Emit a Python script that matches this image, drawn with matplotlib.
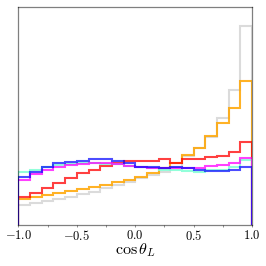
import numpy as np
import matplotlib
matplotlib.use("Agg")
import matplotlib.pyplot as plt
from matplotlib.ticker import MultipleLocator

plt.rcParams['font.family'] = 'serif'
plt.rcParams['font.serif'] = ['cmr10']
plt.rcParams['mathtext.fontset'] = 'cm'
plt.rcParams['axes.formatter.use_mathtext'] = True

bin_edges = np.linspace(-1.0, 1.0, 21)

gray_vals = [0.171, 0.185, 0.205, 0.222, 0.242, 0.261, 0.284, 0.312, 0.340, 0.368,
             0.396, 0.424, 0.452, 0.494, 0.579, 0.649, 0.747, 0.902, 1.135, 1.674]
orange_vals = [0.225, 0.236, 0.256, 0.275, 0.289, 0.303, 0.320, 0.337, 0.362, 0.382,
               0.410, 0.444, 0.480, 0.522, 0.593, 0.649, 0.753, 0.860, 0.986, 1.211]
red_vals = [0.236, 0.275, 0.312, 0.360, 0.396, 0.444, 0.466, 0.500, 0.522, 0.542,
            0.542, 0.537, 0.556, 0.522, 0.556, 0.562, 0.573, 0.579, 0.621, 0.699]
magenta_vals = [0.382, 0.433, 0.466, 0.494, 0.508, 0.517, 0.522, 0.522, 0.514, 0.503,
                0.494, 0.486, 0.480, 0.480, 0.480, 0.486, 0.500, 0.508, 0.528, 0.570]
cyan_vals = [0.447, 0.466, 0.494, 0.508, 0.517, 0.522, 0.522, 0.517, 0.514, 0.503,
             0.494, 0.480, 0.466, 0.466, 0.461, 0.452, 0.466, 0.466, 0.494, 0.551]
blue_vals = [0.404, 0.452, 0.494, 0.522, 0.531, 0.542, 0.556, 0.556, 0.542, 0.528,
             0.494, 0.489, 0.486, 0.494, 0.480, 0.466, 0.461, 0.461, 0.466, 0.489]

series = [
    (gray_vals, 'lightgray', 0.8),
    (orange_vals, 'orange', 0.85),
    (red_vals, 'red', 0.75),
    (cyan_vals, 'aquamarine', 0.85),
    (magenta_vals, 'magenta', 0.75),
    (blue_vals, 'blue', 0.7),
]

fig = plt.figure(figsize=(2.66, 2.66), dpi=100)
ax = fig.add_axes([0.0695, 0.153, 0.8775, 0.822])

centers = 0.5 * (bin_edges[:-1] + bin_edges[1:])
for vals, col, a in series:
    ax.hist(centers, bins=bin_edges, weights=vals, histtype='step',
            color=col, alpha=a, linewidth=1.5)

ax.set_xlim(-1.0, 1.0)
ax.set_ylim(0, 1.84)
ax.set_yticks([])
ax.xaxis.set_major_locator(MultipleLocator(0.5))
ax.xaxis.set_minor_locator(MultipleLocator(0.25))
ax.tick_params(axis='x', which='both', direction='out', length=1.5, width=0.6,
               color=(0, 0, 0, 0.5), labelsize=9, pad=1.5)
for s in ax.spines.values():
    s.set_edgecolor((0, 0, 0, 0.5))
    s.set_linewidth(0.9)
ax.set_xlabel(r'$\cos\theta_L$', fontsize=11.5, labelpad=-1.5)

fig.savefig('out.png', dpi=100)
